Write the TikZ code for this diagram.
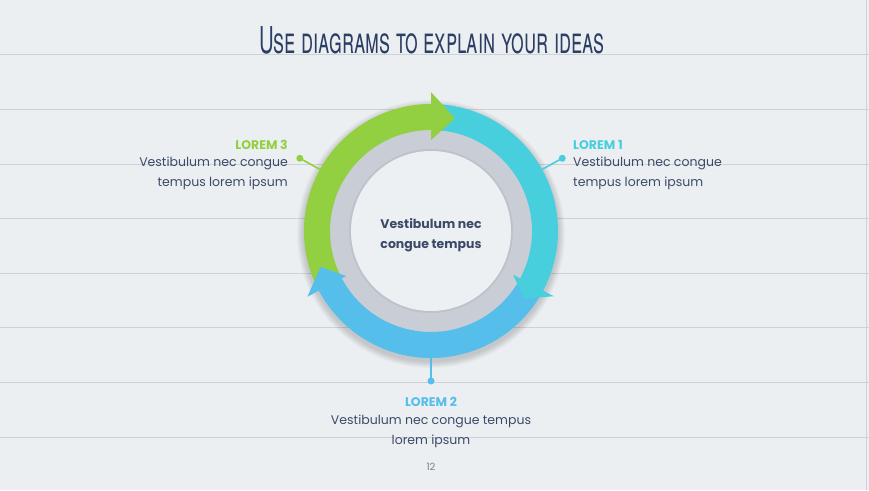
\documentclass[tikz,border=0pt]{standalone}
\usepackage{fontspec}
\setmainfont{Poppins}
\newfontfamily\titlefont[FakeStretch=0.55,Letters=SmallCaps]{TeX Gyre Heros}
\usetikzlibrary{positioning}

\definecolor{paper}{HTML}{EBEFF2}
\definecolor{rule}{HTML}{CDD2D8}
\definecolor{ink}{HTML}{3C4A68}
\definecolor{titleink}{HTML}{2C3E63}
\definecolor{leafgreen}{HTML}{92D042}
\definecolor{aqua}{HTML}{48CFDD}
\definecolor{sky}{HTML}{55BEEA}
\definecolor{ringgray}{HTML}{C9CED6}
\definecolor{hub}{HTML}{EDF0F3}

\tikzset{
  heading/.style={font=\fontsize{12.5}{15}\selectfont\bfseries, inner sep=0pt},
  bodytext/.style={font=\fontsize{12.5}{20}\selectfont, text=ink, inner sep=0pt},
  dot/.style={circle, fill=#1, minimum size=7pt, inner sep=0pt},
  stem/.style={draw=#1, line width=1.6pt}
}

\begin{document}
\begin{tikzpicture}[x=1pt,y=1pt]
  % Hintergrund
  \fill[paper] (0,0) rectangle (869,490);
  \useasboundingbox (0,0) rectangle (869,490);
  \foreach \y in {53,108,163,217,272,326,381,436}
    \draw[rule, line width=0.8pt] (0,\y) -- (869,\y);
  \draw[rule, line width=1pt] (866,0) -- (866,490);

  % Titel
  \node[text=titleink, font=\titlefont\fontsize{37}{40}\selectfont] (title) at (432,450)
    {Use diagrams to explain your ideas};

  % Kreis
  \begin{scope}[shift={(431,259)}]
    \coordinate (C) at (0,0);
    \foreach \k in {1,...,7}
      \fill[black, opacity=0.025] (0,-3) circle ({127+\k});
    \fill[ringgray] (C) circle (101);
    \fill[black, opacity=0.05] (C) circle (82);
    \fill[hub] (C) circle (80);
    % Ringsegmente
    \fill[leafgreen] (208:127) arc[start angle=208, end angle=90, radius=127]
      -- (90:101) arc[start angle=90, end angle=208, radius=101] -- cycle;
    \fill[aqua] (90:127) arc[start angle=90, end angle=-28, radius=127]
      -- (-28:101) arc[start angle=-28, end angle=90, radius=101] -- cycle;
    \fill[sky] (-28:127) arc[start angle=-28, end angle=-152, radius=127]
      -- (-152:101) arc[start angle=-152, end angle=-28, radius=101] -- cycle;
    % Pfeilspitzen
    \fill[leafgreen] (90:139) -- (78:115) -- (90:91) -- cycle;
    \fill[aqua] (-28:139) -- (-36:115) -- (-28:93) -- cycle;
    \fill[sky] (-152:140) -- (-162:116) -- (-152:96) -- cycle;
    % Anschlusspunkte
    \coordinate (r1) at (29:127);
    \coordinate (r2) at (270:127);
    \coordinate (r3) at (151:127);
    \node[dot=aqua] (d1) at (29:150) {};
    \node[dot=sky] (d2) at (270:150) {};
    \node[dot=leafgreen] (d3) at (151:150) {};
  \end{scope}
  \draw[stem=aqua] (r1) -- (d1.center);
  \draw[stem=sky] (r2) -- (d2.center);
  \draw[stem=leafgreen] (r3) -- (d3.center);

  % Mitte
  \node[bodytext, font=\fontsize{12.5}{20}\selectfont\bfseries, align=center] (hubtext) at (431,255)
    {Vestibulum nec\\congue tempus};

  % Beschriftungen
  \node[heading, text=aqua, anchor=west] (lorem1) at (573,345) {LOREM 1};
  \node[bodytext, align=left, anchor=west] (text1) at (573,317)
    {Vestibulum nec congue\\tempus lorem ipsum};
  \node[heading, text=leafgreen, anchor=east] (lorem3) at (288,345) {LOREM 3};
  \node[bodytext, align=right, anchor=east] (text3) at (288,317)
    {Vestibulum nec congue\\tempus lorem ipsum};
  \node[heading, text=sky] (lorem2) at (431,88) {LOREM 2};
  \node[bodytext, align=center] (text2) at (431,58.5)
    {Vestibulum nec congue tempus\\lorem ipsum};
  \node[font=\fontsize{10}{12}\selectfont, text=ink!70] (page) at (431,23) {12};
\end{tikzpicture}
\end{document}
